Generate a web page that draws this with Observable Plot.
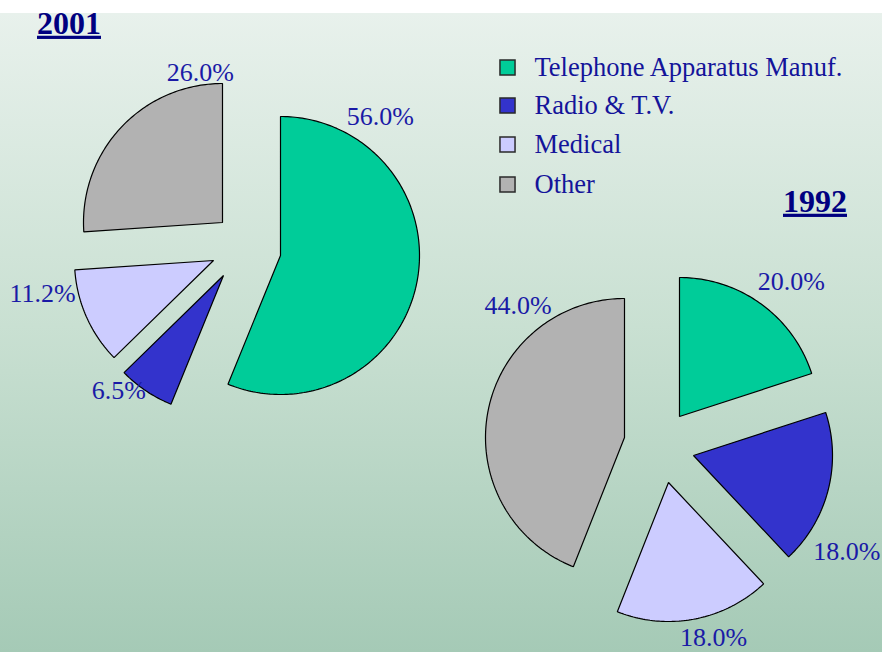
<!DOCTYPE html>
<html><head><meta charset="utf-8">
<script src="https://cdn.jsdelivr.net/npm/d3@7"></script>
<script src="https://cdn.jsdelivr.net/npm/@observablehq/plot@0.6"></script>
<style>
html,body{margin:0;padding:0;background:#fff;}
#chart{width:882px;height:652px;overflow:hidden;
 background:linear-gradient(to bottom,#ffffff 0px,#ffffff 13px,#e8f1ec 13px,#c9e0d2 50%,#a5cab6 100%);}
svg{display:block;}
text.year{text-decoration:underline;text-decoration-thickness:3px;}
</style></head><body><div id="chart"></div>
<script>
// ---- data ----
const categories = ["Telephone Apparatus Manuf.", "Radio & T.V.", "Medical", "Other"];
const share2001 = [56.0, 6.5, 11.2, 26.0];
const share1992 = [20.0, 18.0, 18.0, 44.0];
const years = ["2001", "1992"];
const colors = ["#00cc99", "#3333cc", "#ccccff", "#b2b2b2"];

// ---- layout (pixels) ----
const R = 139;
const layout = {
  "2001": {
    vertices: [[280,255],[223,275],[213,260],[222,222]],
    labels: [[35.7,171],[222.2,156],[259.1,174],[351.6,151]],
    title: [68.5,23]
  },
  "1992": {
    vertices: [[679,416],[693,455],[668,482],[624,437]],
    labels: [[39.7,175],[122.1,181],[163.8,162],[321,169]],
    title: [814.5,201]
  }
};
const legendPos = {x: 507, textX: 534, y: [67,105,144,184]};

// ---- build slices ----
function buildSlices(year, values) {
  const total = d3.sum(values);
  let a = 0;
  return values.map((v, i) => {
    const a0 = a; a += v / total * 360;
    return {year, cat: categories[i], value: v, a0, a1: a, i};
  });
}
const slices = [...buildSlices("2001", share2001), ...buildSlices("1992", share1992)];
const rad = d => d * Math.PI / 180;
const points = [];
for (const s of slices) {
  const [vx, vy] = layout[s.year].vertices[s.i];
  const id = s.year + "-" + s.i;
  points.push({id, cat: s.cat, x: vx, y: vy});
  const n = Math.max(2, Math.ceil((s.a1 - s.a0) / 1));
  for (let k = 0; k <= n; k++) {
    const t = s.a0 + (s.a1 - s.a0) * k / n;
    points.push({id, cat: s.cat, x: vx + R * Math.sin(rad(t)), y: vy - R * Math.cos(rad(t))});
  }
}
const labels = slices.map(s => {
  const [vx, vy] = layout[s.year].vertices[s.i];
  const [ang, r] = layout[s.year].labels[s.i];
  return {x: vx + r * Math.sin(rad(ang)), y: vy - r * Math.cos(rad(ang)), text: s.value.toFixed(1) + "%"};
});
const titles = years.map(y => ({x: layout[y].title[0], y: layout[y].title[1], text: y}));
const legend = categories.map((c, i) => ({cat: c, y: legendPos.y[i]}));

const chart = Plot.plot({
  width: 882, height: 652, margin: 0,
  x: {domain: [0, 882], range: [0, 882], axis: null},
  y: {domain: [0, 652], range: [0, 652], axis: null},
  color: {domain: categories, range: colors},
  style: {background: "transparent", fontFamily: "'Liberation Serif', 'Times New Roman', serif"},
  marks: [
    Plot.line(points, {x: "x", y: "y", z: "id", fill: "cat", stroke: "#000", strokeWidth: 1.2, curve: "linear-closed", strokeLinejoin: "miter"}),
    Plot.text(labels, {x: "x", y: "y", text: "text", fontSize: 26, fill: "#1a1aa6"}),
    Plot.dot(legend, {x: legendPos.x, y: "y", symbol: "square", r: 8.5, fill: "cat", stroke: "#2a2a2a", strokeWidth: 1.5}),
    Plot.text(legend, {x: legendPos.textX, y: "y", text: "cat", textAnchor: "start", fontSize: 26.5, fill: "#14149a"}),
    Plot.text(titles, {x: "x", y: "y", text: "text", fontSize: 32, fontWeight: "bold", fill: "#000080", className: "year"})
  ]
});
document.getElementById("chart").appendChild(chart);
d3.select(chart).selectAll("g.year text, text.year").attr("class", "year");
</script>
</body></html>
